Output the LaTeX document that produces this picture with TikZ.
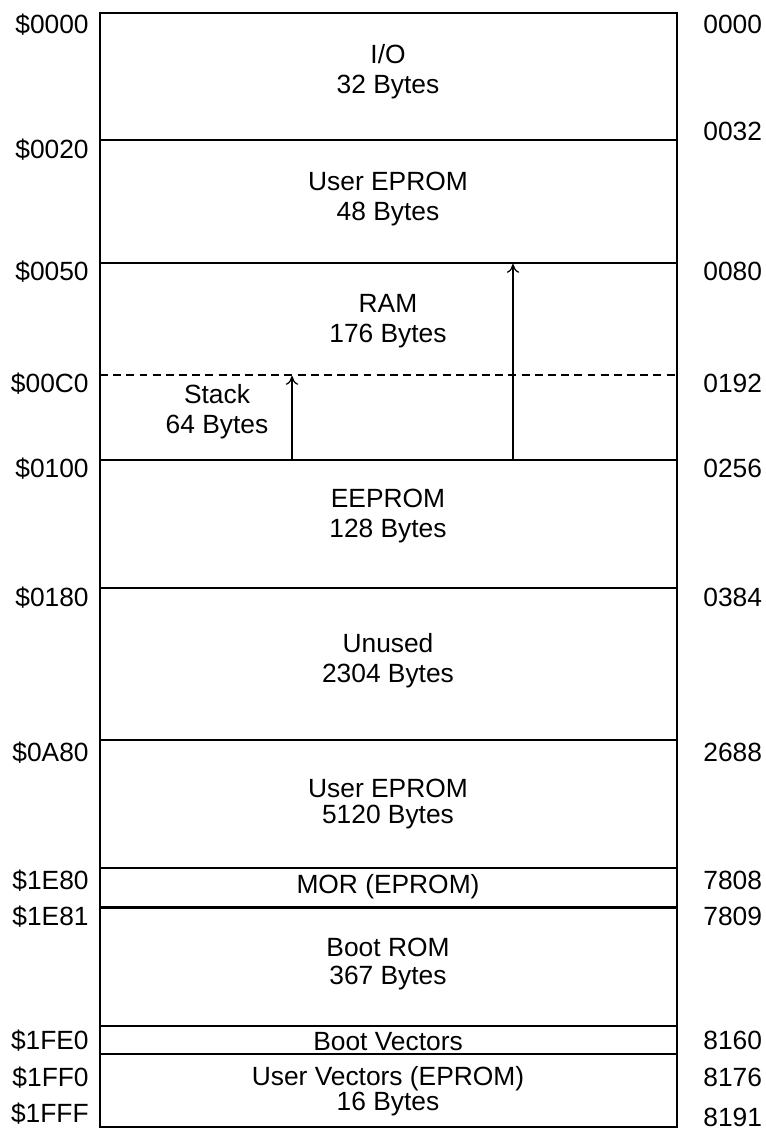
\documentclass[tikz,border=0pt]{standalone}
\usepackage{fontspec}
\setmainfont{Liberation Sans}
\usetikzlibrary{arrows.meta}

\tikzset{
  sep/.style={line width=0.8pt},
  addr/.style={anchor=base east,inner sep=0pt},
  dec/.style={anchor=base west,inner sep=0pt},
  region/.style={align=center,inner sep=0pt},
  growarrow/.style={line width=0.7pt,-{To[length=5pt,width=7pt]}}
}

\begin{document}
\begin{tikzpicture}[x=0.02cm,y=-0.02cm,font=\fontsize{15}{17.2}\selectfont]
  \useasboundingbox (0,0) rectangle (766,1130);

  % memory block outline and separators
  \draw[sep] (100,13) rectangle (677,1127);
  \foreach \y in {140,263,460,588,740,868,1026,1054}
    \draw[sep] (100,\y) -- (677,\y);
  \draw[line width=1.7pt] (100,907) -- (677,907);
  \draw[line width=0.8pt,dash pattern=on 4.5pt off 3pt] (100,375) -- (677,375);

  % region contents
  \node[region] (io)     at (388,72)   {I/O\\32 Bytes};
  \node[region] (ueprom) at (388,199)  {User EPROM\\48 Bytes};
  \node[region] (ram)    at (388,321)  {RAM\\176 Bytes};
  \node[region] (stack)  at (217,412)  {Stack\\64 Bytes};
  \node[region] (eeprom) at (388,516)  {EEPROM\\128 Bytes};
  \node[region] (unused) at (388,661)  {Unused\\2304 Bytes};
  \node[region] (ueprom2) at (388,804) {User EPROM\\[-2.5pt]5120 Bytes};
  \node[region] (mor)    at (388,887)  {MOR (EPROM)};
  \node[region] (boot)   at (388,964)  {Boot ROM\\[-1pt]367 Bytes};
  \node[region] (bvec)   at (388,1042) {Boot Vectors};
  \node[region] (uvec)   at (388,1091) {User Vectors (EPROM)\\[-3pt]16 Bytes};

  % stack and ram growth
  \coordinate (stackbot) at (292,460);
  \coordinate (stacktop) at (292,376);
  \coordinate (rambot) at (513,460);
  \coordinate (ramtop) at (513,264);
  \draw[growarrow] (stackbot) -- (stacktop);
  \draw[growarrow] (rambot) -- (ramtop);

  % hex addresses
  \node[addr] (h0000) at (89,33)   {\$0000};
  \node[addr] (h0020) at (89,158)  {\$0020};
  \node[addr] (h0050) at (89,280)  {\$0050};
  \node[addr] (h00C0) at (89,392)  {\$00C0};
  \node[addr] (h0100) at (89,477)  {\$0100};
  \node[addr] (h0180) at (89,606)  {\$0180};
  \node[addr] (h0A80) at (89,761)  {\$0A80};
  \node[addr] (h1E80) at (89,889)  {\$1E80};
  \node[addr] (h1E81) at (89,925)  {\$1E81};
  \node[addr] (h1FE0) at (89,1049) {\$1FE0};
  \node[addr] (h1FF0) at (89,1086) {\$1FF0};
  \node[addr] (h1FFF) at (89,1122) {\$1FFF};

  % decimal addresses
  \node[dec] (d0000) at (703,33)   {0000};
  \node[dec] (d0032) at (703,140)  {0032};
  \node[dec] (d0080) at (703,280)  {0080};
  \node[dec] (d0192) at (703,392)  {0192};
  \node[dec] (d0256) at (703,477)  {0256};
  \node[dec] (d0384) at (703,606)  {0384};
  \node[dec] (d2688) at (703,761)  {2688};
  \node[dec] (d7808) at (703,889)  {7808};
  \node[dec] (d7809) at (703,925)  {7809};
  \node[dec] (d8160) at (703,1049) {8160};
  \node[dec] (d8176) at (703,1086) {8176};
  \node[dec] (d8191) at (703,1126) {8191};
\end{tikzpicture}
\end{document}
